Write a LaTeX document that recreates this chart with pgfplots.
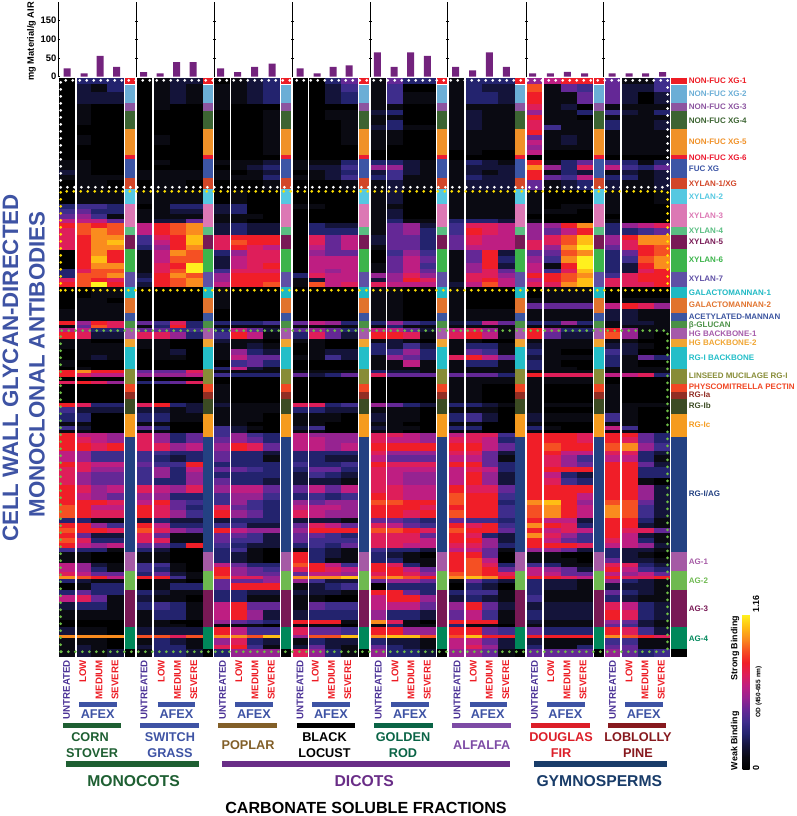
\documentclass[border=0pt]{standalone}
\usepackage{pgfplots}
\usepackage{pgfplotstable}
\usepackage{fontspec}
\setmainfont{Liberation Sans}
\pgfplotsset{compat=1.18}
\pgfplotsset{colormap={od}{rgb255=(0,0,0) rgb255=(10,10,18) rgb255=(20,20,58) rgb255=(35,35,110) rgb255=(62,45,140) rgb255=(100,40,150) rgb255=(150,35,145) rgb255=(190,30,130) rgb255=(222,30,90) rgb255=(240,30,40) rgb255=(245,80,35) rgb255=(250,140,30) rgb255=(255,190,20) rgb255=(255,240,30)}}
\newcommand\fs[1]{\fontsize{#1}{#1}\selectfont\bfseries}
\pgfdeclareplotmark{cell}{\pgfpathrectangle{\pgfpoint{-\cw pt*0.5}{-\rowh pt*0.5-0.1pt}}{\pgfpoint{\cw pt}{\rowh pt+0.2pt}}\pgfusepathqfill}
\definecolor{barp}{RGB}{115,35,125}
\definecolor{afex}{RGB}{62,83,164}
\definecolor{lowred}{RGB}{237,28,36}
\definecolor{untr}{RGB}{75,50,150}
\definecolor{dotyellow}{RGB}{255,225,0}
\definecolor{dotgreen}{RGB}{110,190,70}

% binding levels 0-13 (0 = 0 OD, 13 = 1.16 OD), rows are top pixel y and height h
\pgfplotstableread{
y h u1 l1 m1 s1 u2 l2 m2 s2 u3 l3 m3 s3 u4 l4 m4 s4 u5 l5 m5 s5 u6 l6 m6 s6 u7 l7 m7 s7 u8 l8 m8 s8
78 6 0 3 3 3 0 1 2 2 0 1 2 3 0 0 3 5 1 5 3 3 1 3 3 3 6 7 9 9 5 1 1 4
84 8 0 2 1 3 0 1 2 1 1 1 2 3 0 0 2 4 1 4 0 0 1 3 2 2 10 1 5 4 5 2 2 4
92 12 0 2 2 2 0 1 2 1 1 1 2 3 0 0 2 3 1 4 1 1 1 3 3 2 9 1 1 5 5 2 0 2
104 6 0 1 0 0 0 1 0 0 1 0 0 0 0 0 0 0 1 1 0 0 1 1 1 1 8 1 2 0 1 1 1 1
110 5 0 1 0 0 0 0 0 0 0 0 0 1 0 0 1 1 2 3 0 0 1 2 1 1 6 1 1 3 4 2 1 3
115 5 0 1 0 0 0 0 0 0 0 0 0 1 0 0 1 1 1 1 0 0 1 2 1 1 9 1 1 0 1 1 1 1
120 5 0 1 0 0 0 0 0 0 0 0 0 1 0 0 0 1 1 3 0 0 1 2 1 1 8 1 1 1 3 1 1 2
125 5 0 0 0 0 0 0 0 0 0 0 0 1 0 0 0 1 2 3 1 1 1 2 1 1 8 4 1 1 3 1 1 2
130 5 0 0 0 0 0 0 0 0 0 0 0 1 0 0 0 1 1 1 0 0 1 1 1 1 9 1 1 1 1 1 1 1
135 5 0 1 0 0 0 1 0 0 0 0 0 1 0 0 0 1 1 1 0 0 1 1 1 1 5 1 2 1 1 1 1 1
140 5 0 1 0 0 0 1 0 0 0 0 0 1 0 0 0 1 1 1 0 0 1 1 1 1 7 1 2 1 1 1 1 1
145 5 0 0 0 0 0 0 0 0 0 0 0 1 0 0 0 0 1 0 0 0 1 1 1 1 6 1 1 1 1 1 1 1
150 5 0 0 0 0 0 0 0 0 0 0 0 1 0 0 0 0 0 0 0 0 0 1 0 0 7 0 0 0 1 1 1 1
155 5 0 0 0 0 0 0 0 0 0 0 0 0 0 0 0 0 0 0 0 0 0 0 0 0 0 0 0 0 0 0 0 0
160 5 1 1 0 0 0 1 0 0 1 1 1 2 1 1 1 3 3 3 2 1 1 3 2 1 9 1 3 5 4 3 1 3
165 5 1 1 0 0 0 0 0 0 0 1 2 3 1 2 2 4 6 6 2 1 1 2 2 2 11 6 3 8 7 4 3 5
170 5 2 1 0 0 1 1 1 1 1 0 1 2 0 1 2 3 2 4 2 1 1 2 1 2 9 1 3 2 1 2 1 2
175 5 1 1 1 1 1 1 1 1 1 1 1 3 1 1 2 4 3 4 1 1 1 3 2 2 9 5 4 7 3 3 1 2
180 10 0 1 1 0 0 1 1 0 0 0 0 1 0 0 0 1 1 2 1 1 1 2 2 2 5 1 2 3 2 1 1 2
190 14 0 1 1 1 1 1 1 1 0 1 0 0 0 0 0 0 1 2 0 0 1 1 1 1 1 0 0 0 1 0 0 1
204 5 3 4 4 3 0 1 3 3 2 3 0 0 1 1 0 0 1 1 0 0 1 1 1 1 1 0 1 1 1 0 0 0
209 5 4 5 3 3 1 1 2 2 2 3 0 0 0 0 0 0 1 2 0 0 1 1 1 1 1 1 1 0 1 0 0 0
214 5 5 6 4 1 1 1 1 1 1 1 1 0 0 0 0 0 1 2 0 0 1 1 1 1 0 0 0 0 0 0 0 0
219 4 7 7 7 5 1 2 2 5 1 1 0 0 0 0 0 0 1 3 1 1 3 3 3 2 1 0 0 0 1 0 0 0
223 5 9 10 9 10 7 9 10 11 2 3 2 2 0 3 2 2 1 5 6 2 4 8 8 7 6 6 9 11 3 6 7 8
228 7 8 10 11 10 7 9 10 11 2 3 2 2 0 3 3 3 1 5 6 3 4 9 8 7 6 5 7 9 3 3 4 5
235 5 8 9 11 11 4 8 9 12 8 9 9 9 0 8 5 7 2 5 5 3 5 8 7 7 6 8 10 12 6 9 11 11
240 5 8 9 11 12 4 7 9 12 8 10 9 9 0 8 5 7 2 5 5 3 5 8 7 7 8 8 10 12 6 8 11 11
245 5 8 9 11 11 3 6 9 11 8 9 8 7 0 7 5 7 1 5 5 3 5 7 7 7 8 6 11 13 5 8 9 10
250 6 0 9 11 9 1 7 11 10 3 6 8 8 0 6 5 5 0 4 6 4 1 5 9 2 5 5 10 11 3 5 9 10
256 7 0 9 12 9 1 7 10 10 2 7 8 8 0 7 7 7 0 5 7 5 1 5 9 3 6 4 11 13 3 4 10 11
263 6 0 9 11 11 1 8 9 13 2 7 8 9 0 7 7 7 1 5 7 4 1 6 9 2 7 1 9 13 3 2 9 11
269 4 3 8 10 10 1 8 10 13 4 8 8 8 0 7 6 7 1 5 7 5 1 6 8 5 7 4 8 12 3 2 8 9
273 5 3 10 10 11 2 9 11 10 6 9 9 9 3 8 7 7 6 6 8 6 1 8 8 6 9 9 10 11 4 8 9 9
278 4 8 10 9 8 3 9 10 11 6 9 9 9 1 2 7 7 2 6 9 8 1 8 9 7 7 9 10 12 8 8 9 9
282 5 9 10 13 9 2 9 10 11 7 9 9 10 1 10 7 8 8 7 7 7 2 7 10 7 8 8 11 12 8 8 8 9
287 11 0 0 1 1 0 0 0 0 1 0 0 0 0 0 0 0 1 1 0 0 1 0 0 0 0 1 1 1 0 0 0 0
298 5 0 1 1 0 0 0 0 0 1 0 0 0 0 0 0 0 1 1 0 0 1 0 0 0 1 1 1 1 0 1 1 1
303 6 0 1 1 1 0 0 0 0 1 0 0 0 0 0 0 0 1 1 0 0 1 0 0 0 5 5 5 5 7 9 8 6
309 12 1 1 1 1 0 0 0 0 0 0 0 0 0 0 0 0 1 1 0 0 1 1 1 1 1 1 1 1 2 2 1 1
321 4 9 6 9 8 5 4 8 3 3 3 3 4 5 7 6 3 3 6 4 3 2 3 7 5 3 3 6 3 1 2 2 1
325 3.3 1 5 10 8 1 3 9 3 1 1 1 1 1 1 1 1 1 3 1 1 1 1 1 1 1 1 1 1 1 1 1 1
328.3 3.4 7 7 3 3 5 5 4 4 3 7 5 2 5 6 5 3 7 7 5 2 7 8 6 1 9 6 3 3 9 6 1 1
331.7 7.6 9 8 2 2 8 8 6 3 4 9 7 1 3 8 5 2 9 9 8 1 8 9 7 1 9 5 2 2 10 6 1 0
339.3 4 1 1 0 0 1 1 0 0 2 1 1 0 1 1 0 0 1 2 1 0 1 1 0 0 1 1 1 1 1 1 0 0
343.3 6 1 1 1 1 1 1 0 0 1 1 2 1 0 1 0 0 3 2 4 2 1 3 3 1 2 1 1 1 2 2 1 0
349.3 5.7 0 1 1 1 0 1 2 0 1 6 3 2 0 1 2 2 3 4 6 3 1 5 4 1 3 1 0 0 4 2 0 0
355 5 0 1 2 1 0 1 1 0 1 7 5 5 1 1 4 2 1 6 5 3 8 9 7 5 2 1 1 1 3 1 5 3
360 6.7 1 0 0 0 0 0 0 0 0 4 5 3 0 0 0 0 1 1 7 1 1 3 3 1 3 1 0 0 3 1 0 0
366.7 3.3 0 1 0 0 0 0 0 0 3 7 2 1 0 0 0 0 1 1 1 1 1 1 1 1 3 1 1 0 1 1 1 1
370 3.3 9 11 9 9 5 5 5 8 1 1 1 1 1 1 1 1 3 2 2 1 1 1 1 1 1 1 1 1 1 1 1 1
373.3 3.4 9 8 7 7 6 6 6 7 4 3 3 3 5 2 3 5 8 5 5 5 5 5 5 3 9 8 8 8 7 7 8 3
376.7 4 0 0 0 0 0 0 0 0 0 0 0 0 0 0 0 0 0 0 0 0 1 1 1 1 1 1 1 1 0 0 0 0
380.7 3.3 8 9 8 6 3 4 5 8 0 0 0 0 0 0 0 0 0 0 0 0 1 1 1 1 1 1 1 1 0 0 0 0
384 18.7 0 0 0 0 0 0 0 0 1 0 0 0 0 0 0 0 0 0 0 0 1 1 0 0 1 0 0 0 1 0 0 0
402.7 4.6 9 8 3 3 8 9 3 2 2 1 1 1 8 8 3 4 6 5 3 2 3 3 2 1 1 1 1 1 1 1 1 1
407.3 6 4 2 2 2 2 2 1 2 1 1 1 1 3 3 2 2 1 1 1 0 1 1 1 0 1 0 0 0 1 1 0 0
413.3 8.4 3 3 0 0 3 3 1 1 1 1 1 0 1 1 1 0 2 1 1 0 3 4 2 0 2 1 1 1 4 1 0 0
421.7 4.3 1 1 0 0 1 1 0 0 1 1 0 0 1 1 0 0 1 1 0 0 1 1 0 0 1 0 0 0 1 1 0 0
426 4 4 2 0 0 5 3 0 0 4 2 1 0 2 4 0 0 2 1 1 0 3 3 0 0 3 1 0 0 7 4 0 0
430 3.3 1 1 0 0 1 1 0 0 4 2 0 0 1 1 0 0 1 1 0 0 1 1 0 0 1 0 0 0 1 1 0 0
433.3 4 9 7 7 6 8 6 3 5 4 6 4 3 7 6 6 6 8 8 7 6 7 8 8 4 9 9 9 8 9 9 5 3
437.3 6 9 8 7 6 8 6 3 5 5 6 5 3 7 7 6 6 8 7 7 6 8 8 7 3 9 9 9 8 9 8 5 3
443.3 7.4 9 9 8 9 8 8 6 7 6 9 8 5 7 7 6 7 9 9 9 9 9 9 7 5 9 10 9 9 10 11 6 4
450.7 4.3 7 6 4 4 4 4 3 3 5 3 3 2 3 3 3 3 8 6 6 6 8 8 5 2 9 9 7 7 8 8 3 2
455 6.7 7 6 4 4 4 3 2 3 5 3 3 1 3 3 2 2 7 5 5 5 7 7 5 1 9 8 6 4 7 7 3 1
461.7 5 9 8 7 7 5 4 4 9 3 3 3 3 4 3 3 4 9 8 8 8 9 9 5 3 9 8 6 5 9 9 5 2
466.7 5 8 8 6 6 4 6 3 7 5 5 4 3 3 5 5 3 8 7 7 7 7 8 7 3 9 9 9 9 9 9 3 3
471.7 6.6 8 6 5 5 4 6 3 6 3 3 3 3 2 4 3 2 8 7 6 6 7 9 6 2 9 7 3 2 9 9 3 3
478.3 6.7 8 6 5 5 4 3 3 6 5 3 3 2 2 2 2 1 8 7 6 6 7 9 6 2 9 8 4 3 9 9 1 0
485 8.3 9 8 6 7 8 7 6 8 6 7 7 5 5 7 5 7 8 8 7 7 9 8 8 5 9 9 9 9 9 9 6 2
493.3 6.7 9 7 6 5 6 6 3 3 4 6 6 4 3 4 3 4 9 8 7 7 10 9 9 4 9 9 9 7 9 9 6 2
500 5 9 9 9 8 7 9 5 4 4 6 4 3 6 5 6 6 10 10 9 9 10 9 9 3 11 12 9 6 10 10 5 2
505 5 10 9 7 7 9 8 5 3 8 5 4 3 7 7 7 6 9 9 9 8 9 9 9 4 10 11 9 7 11 10 4 2
510 8.3 10 9 8 8 9 8 6 4 9 6 5 3 8 7 6 6 9 9 8 9 10 9 9 4 10 11 9 7 11 10 4 2
518.3 4.4 3 3 1 1 2 3 2 2 2 3 3 3 2 2 2 1 5 5 4 3 5 4 4 3 9 7 7 2 9 9 3 1
522.7 5.6 9 9 6 4 9 7 3 3 4 4 2 2 5 8 7 5 8 7 5 4 9 8 9 4 11 9 8 3 9 9 2 1
528.3 5 10 9 9 8 10 8 6 5 9 7 6 6 6 9 9 9 10 10 9 8 10 9 9 5 9 7 8 7 9 8 8 5
533.3 5 9 5 2 2 8 5 1 1 5 5 4 2 5 5 4 3 8 8 8 5 9 8 3 2 11 8 6 4 9 7 2 1
538.3 5 10 8 3 3 8 8 1 1 5 4 4 2 5 4 4 4 8 8 8 7 9 9 6 2 9 7 5 4 8 7 3 1
543.3 5 9 7 6 7 5 5 3 9 4 3 2 2 3 4 3 5 8 8 7 7 8 8 6 3 9 9 9 8 7 7 6 2
548.3 4 4 3 3 1 3 2 0 0 3 4 1 0 1 3 2 1 4 3 3 2 7 7 5 1 6 6 5 2 3 2 2 1
552.3 6 1 1 0 0 1 1 0 0 3 2 1 0 9 3 2 1 3 2 1 0 9 9 5 0 1 1 0 0 3 2 1 0
558.3 5 1 1 0 0 1 1 0 0 3 2 1 0 9 3 1 1 3 3 1 1 9 10 7 0 1 1 1 0 5 2 2 1
563.3 4 7 6 2 1 4 4 1 0 7 5 3 3 10 9 7 4 9 8 3 1 9 10 8 3 4 3 1 1 8 8 3 2
567.3 4.4 7 6 3 1 4 3 1 0 9 6 5 4 8 9 8 7 9 9 7 5 9 10 9 5 7 6 5 2 9 7 4 3
571.7 4.3 8 7 5 5 3 5 2 1 9 6 5 5 5 7 7 6 8 9 8 6 10 10 9 8 7 7 5 5 7 6 7 5
576 3.3 11 10 9 7 9 9 4 1 10 8 8 6 11 11 11 12 10 11 10 9 11 12 11 9 9 9 8 7 9 8 8 9
579.3 4 3 2 1 1 0 1 1 0 5 5 5 6 6 4 2 2 5 6 6 5 1 5 3 2 3 2 2 1 6 3 2 1
583.3 6.7 0 1 3 3 0 1 3 3 5 9 9 9 1 2 3 4 0 3 3 3 0 3 2 0 3 2 2 1 2 2 2 1
590 5 3 5 3 3 3 2 1 1 3 3 2 2 2 2 2 1 9 9 5 3 3 4 4 1 3 1 1 1 5 3 2 1
595 6.7 7 8 5 1 2 1 1 0 3 3 1 1 1 1 0 0 7 9 9 6 2 3 2 1 4 1 1 1 3 2 1 1
601.7 8.3 2 3 3 1 3 4 3 1 7 9 5 5 1 5 4 4 7 7 7 5 6 9 5 2 2 2 2 2 8 7 3 2
610 10 1 1 1 1 1 3 3 1 7 9 6 2 2 3 3 3 6 3 3 2 5 7 4 1 3 2 2 2 9 8 3 2
620 4 0 0 0 0 1 1 0 0 6 5 4 3 9 9 9 1 11 8 1 0 9 9 9 1 2 1 1 1 6 5 2 1
624 3.3 0 0 0 0 1 1 1 0 1 1 1 0 1 1 1 0 1 3 1 1 3 1 1 0 1 1 1 1 5 4 2 1
627.3 7.7 2 1 1 0 2 2 2 2 9 7 4 4 8 5 5 4 9 9 6 6 9 9 5 4 5 3 3 3 9 8 4 2
635 3.3 11 11 11 11 10 10 8 10 11 11 10 12 6 10 10 12 11 12 12 10 10 12 9 9 9 9 9 9 11 10 9 8
638.3 6.7 1 1 1 0 1 3 2 1 6 8 3 2 1 3 2 2 3 2 2 1 7 7 5 2 2 1 1 1 4 4 1 1
645 4.3 1 2 1 0 2 3 3 1 8 9 4 1 2 5 2 1 5 3 2 1 7 8 6 2 3 1 1 3 5 5 1 1
649.3 8 1 2 1 2 1 3 3 2 3 6 6 6 8 6 3 1 6 3 3 2 6 6 5 1 5 5 5 5 6 5 3 4
}\heatdata

% one column of cells: column name, centre x, width
\newcommand\heatcol[3]{\addplot[scatter, only marks, mark=cell, point meta=explicit,
  scatter/use mapped color={draw=mapped color, fill=mapped color},
  visualization depends on={value #3\as\cw},
  visualization depends on={\thisrow{h}\as\rowh}]
  table[x expr=#2, y expr=\thisrow{y}+0.5*\thisrow{h}, meta=#1] {\heatdata};}
% one annotation class: top, bottom, colour, label y, label
\newcommand\cls[5]{\pgfplotsinvokeforeach{130,208.2,286,364,442.2,520.2,598.8}{\addplot[line width=10pt, color=#3] coordinates {(##1,#1)(##1,#2)};}
  \addplot[line width=16.3pt, color=#3] coordinates {(679,#1)(679,#2)};
  \node[anchor=west, inner sep=0pt, text=#3] at (688.7,#4) {\fs{8}#5};}
\newcommand\rotlab[2]{\node[rotate=90, anchor=east, inner sep=0pt, text=lowred] at (#1,660) {\fs{9.7}#2};}
\newcommand\group[7]{% untreated x, low x, medium x, severe x, afex left, afex right, afex text
  \node[rotate=90, anchor=east, inner sep=0pt, text=untr] at (#1,660) {\fs{9.7}UNTREATED};
  \rotlab{#2}{LOW}\rotlab{#3}{MEDIUM}\rotlab{#4}{SEVERE}
  \addplot[line width=5pt, color=afex] coordinates {(#5,704.3)(#6,704.3)};
  \node[text=afex, inner sep=0pt] at (#7,714) {\fs{12.7}AFEX};}
\newcommand\species[3]{\addplot[line width=5.5pt, color=#3] coordinates {(#1,725.3)(#2,725.3)};}

\begin{document}
\begin{tikzpicture}
\path[use as bounding box] (0,0) rectangle (796pt,816pt);
% yield bars
\begin{axis}[at={(58.5pt,739.3pt)}, anchor=south west, scale only axis, width=737.5pt, height=74.6pt,
  xmin=58.5, xmax=796, ymin=0, ymax=200, axis x line=none, axis y line=left,
  axis line style={line width=1pt, -}, clip=false,
  ytick={0,50,100,150}, tick style={black, line width=0.8pt}, major tick length=2pt,
  yticklabel style={font=\fs{9.4}, /pgf/number format/assume math mode=true, inner sep=1pt},
  ylabel={\fs{9.3}mg Material/g AIR}, ylabel style={at={(axis cs:31.5,95)}, anchor=center, inner sep=0pt}]
\addplot[ybar, bar shift=0pt, bar width=7pt, fill=barp, draw=none] coordinates {
(67,22)(84,9)(100,56)(116.7,26)
(143.7,12)(160,9)(176.7,39)(193,39)
(220.7,22)(237.7,12)(254.7,26)(272,35)
(300,22)(317,9)(333,26)(349,30)
(377.3,65)(394,26)(410.7,65)(427.3,56)
(455.7,26)(472.7,17)(489.3,65)(506.3,26)
(532.7,9)(550.3,9)(567.3,13)(584.7,9)
(612,9)(629,9)(645.7,9)(662.7,12)};
\pgfplotsinvokeforeach{136,214,292.5,370,447.7,526,603.5}{
  \addplot[black, line width=1pt] coordinates {(#1,0)(#1,200)};
  \addplot[only marks, mark=-, mark size=1.5pt, black] coordinates {(#1,50)(#1,100)(#1,150)};
}
\end{axis}
% heat map and everything else, in picture pixels
\begin{axis}[at={(0,0)}, anchor=south west, scale only axis, width=796pt, height=816pt,
  xmin=0, xmax=796, ymin=0, ymax=816, y dir=reverse, hide axis, clip=false,
  colormap name=od, point meta min=0, point meta max=13]
\heatcol{u1}{66.5}{16}\heatcol{l1}{83.85}{14.3}\heatcol{m1}{99}{16}\heatcol{s1}{115.35}{16.7}
\heatcol{u2}{144.5}{15}\heatcol{l2}{161.85}{16.3}\heatcol{m2}{178}{16}\heatcol{s2}{194.35}{16.7}
\heatcol{u3}{221.75}{15.5}\heatcol{l3}{239}{16}\heatcol{m3}{255}{16}\heatcol{s3}{271.25}{16.5}
\heatcol{u4}{300.1}{15.2}\heatcol{l4}{317}{16}\heatcol{m4}{333}{16}\heatcol{s4}{349.35}{16.7}
\heatcol{u5}{378.35}{14.7}\heatcol{l5}{395}{16}\heatcol{m5}{411.25}{16.5}\heatcol{s5}{427.9}{16.8}
\heatcol{u6}{456.5}{15}\heatcol{l6}{473.85}{16.3}\heatcol{m6}{490}{16}\heatcol{s6}{506.35}{16.7}
\heatcol{u7}{534.5}{15}\heatcol{l7}{552.2}{17}\heatcol{m7}{568.85}{16.3}\heatcol{s7}{585}{16}
\heatcol{u8}{612.1}{15.2}\heatcol{l8}{629.6}{15.8}\heatcol{m8}{645.6}{16.2}\heatcol{s8}{661.85}{16.3}

\definecolor{c1}{RGB}{237,28,36}\cls{77.7}{84}{c1}{81}{NON-FUC XG-1}
\definecolor{c2}{RGB}{107,174,214}\cls{85}{103.3}{c2}{93.7}{NON-FUC XG-2}
\definecolor{c3}{RGB}{140,85,160}\cls{103.3}{111}{c3}{107}{NON-FUC XG-3}
\definecolor{c4}{RGB}{60,100,50}\cls{111}{129.3}{c4}{120.3}{NON-FUC XG-4}
\definecolor{c5}{RGB}{240,145,40}\cls{129.3}{155}{c5}{141.7}{NON-FUC XG-5}
\definecolor{c6}{RGB}{237,28,50}\cls{155}{159.3}{c6}{157.3}{NON-FUC XG-6}
\definecolor{c7}{RGB}{60,85,165}\cls{159.3}{178.3}{c7}{168.3}{FUC XG}
\definecolor{c8}{RGB}{210,70,40}\cls{178.3}{189.3}{c8}{183.3}{XYLAN-1/XG}
\definecolor{c9}{RGB}{85,200,225}\cls{189.3}{204.3}{c9}{196.7}{XYLAN-2}
\definecolor{c10}{RGB}{220,120,180}\cls{204.3}{227.3}{c10}{215.3}{XYLAN-3}
\definecolor{c11}{RGB}{90,190,130}\cls{227.3}{235}{c11}{230.7}{XYLAN-4}
\definecolor{c12}{RGB}{120,25,85}\cls{235}{249.3}{c12}{241.7}{XYLAN-5}
\definecolor{c13}{RGB}{60,180,75}\cls{249.3}{271.7}{c13}{260}{XYLAN-6}
\definecolor{c14}{RGB}{95,80,165}\cls{271.7}{286.7}{c14}{278.3}{XYLAN-7}
\definecolor{c15}{RGB}{30,185,195}\cls{286.7}{298.3}{c15}{292.3}{GALACTOMANNAN-1}
\definecolor{c16}{RGB}{225,115,45}\cls{298.3}{313.3}{c16}{305}{GALACTOMANNAN-2}
\definecolor{c17}{RGB}{60,85,160}\cls{313.3}{321}{c17}{316.7}{ACETYLATED-MANNAN}
\definecolor{c18}{RGB}{75,145,70}\cls{321}{328.3}{c18}{325}{β-GLUCAN}
\definecolor{c19}{RGB}{165,90,170}\cls{328.3}{338.7}{c19}{334}{HG BACKBONE-1}
\definecolor{c20}{RGB}{240,165,50}\cls{339}{346.7}{c20}{342.3}{HG BACKBONE-2}
\definecolor{c21}{RGB}{35,190,200}\cls{346.7}{369.3}{c21}{357.7}{RG-I BACKBONE}
\definecolor{c22}{RGB}{135,140,55}\cls{369.3}{384}{c22}{375.7}{LINSEED MUCILAGE RG-I}
\definecolor{c23}{RGB}{240,70,35}\cls{384}{392}{c23}{386.7}{PHYSCOMITRELLA PECTIN}
\definecolor{c24}{RGB}{145,45,35}\cls{392}{399.3}{c24}{395}{RG-Ia}
\definecolor{c25}{RGB}{60,75,35}\cls{399.3}{414.3}{c25}{406}{RG-Ib}
\definecolor{c26}{RGB}{245,155,30}\cls{414.3}{436.7}{c26}{425}{RG-Ic}
\definecolor{c27}{RGB}{35,65,130}\cls{436.7}{551.7}{c27}{493.7}{RG-I/AG}
\definecolor{c28}{RGB}{165,90,165}\cls{551.7}{571}{c28}{561.3}{AG-1}
\definecolor{c29}{RGB}{110,185,80}\cls{571}{589.7}{c29}{580.3}{AG-2}
\definecolor{c30}{RGB}{120,25,85}\cls{589.7}{627.3}{c30}{608.3}{AG-3}
\definecolor{c31}{RGB}{0,135,90}\cls{627.3}{649.3}{c31}{638.7}{AG-4}
\cls{649.3}{656.7}{black}{652}{}

\group{66.7}{82.7}{99}{115}{79}{116.7}{97.7}
\group{144}{161.3}{177.7}{193.7}{157.7}{195.3}{176.5}
\group{222.7}{238.7}{255}{271.3}{235.3}{273}{254}
\group{300}{315.3}{331.7}{347.7}{312}{349.7}{331}
\group{378.3}{395}{411}{427.3}{391}{428.7}{410}
\group{457}{473.3}{489.3}{505.7}{469.7}{507}{487.7}
\group{534.7}{550.7}{567}{583}{547}{584.7}{565.3}
\group{612.7}{629}{645}{661.3}{625.3}{663}{643.7}

\definecolor{sp1}{RGB}{30,95,50}\definecolor{sp3}{RGB}{130,95,40}\definecolor{sp5}{RGB}{10,100,70}\definecolor{sp6}{RGB}{125,75,165}\definecolor{sp7}{RGB}{220,30,40}\definecolor{sp8}{RGB}{135,25,30}
\definecolor{gy}{RGB}{25,60,105}\definecolor{di}{RGB}{105,45,135}
\species{63.3}{120.7}{sp1}\species{140}{198.7}{afex}\species{218.3}{277}{sp3}\species{297}{355.3}{black}
\species{374.3}{432.7}{sp5}\species{452}{510.7}{sp6}\species{531}{589.7}{sp7}\species{608}{666.3}{sp8}
\addplot[line width=6.5pt, color=sp1] coordinates {(65.7,764)(198.7,764)};
\addplot[line width=6.5pt, color=di] coordinates {(222.3,764)(510,764)};
\addplot[line width=6.5pt, color=gy] coordinates {(534,764)(666.7,764)};

\tikzset{every node/.append style={inner sep=0pt}}
\node[text=sp1] at (90,737.3) {\fs{12.7}CORN};
\node[text=sp1] at (92,752.7) {\fs{12.7}STOVER};
\node[text=afex] at (170,737.3) {\fs{12.7}SWITCH};
\node[text=afex] at (170,752.7) {\fs{12.7}GRASS};
\node[text=sp3] at (248,745) {\fs{12.7}POPLAR};
\node at (324.5,737.3) {\fs{12.7}BLACK};
\node at (324.5,752.7) {\fs{12.7}LOCUST};
\node[text=sp5] at (403,737.3) {\fs{12.7}GOLDEN};
\node[text=sp5] at (403,752.7) {\fs{12.7}ROD};
\node[text=sp6] at (481.7,745) {\fs{12.7}ALFALFA};
\node[text=sp7] at (561,737.3) {\fs{12.7}DOUGLAS};
\node[text=sp7] at (561,752.7) {\fs{12.7}FIR};
\node[text=sp8] at (638,737.3) {\fs{12.7}LOBLOLLY};
\node[text=sp8] at (638,752.7) {\fs{12.7}PINE};
\node[text=sp1] at (133.5,780.7) {\fs{15.7}MONOCOTS};
\node[text=di] at (364.3,780.7) {\fs{15.7}DICOTS};
\node[text=gy] at (599.3,780.7) {\fs{15.7}GYMNOSPERMS};
\node at (366,808) {\fs{16.1}CARBONATE SOLUBLE FRACTIONS};
\node[rotate=90, text=afex] at (10.5,368) {\fs{22.3}CELL WALL GLYCAN-DIRECTED};
\node[rotate=90, text=afex] at (37,364.5) {\fs{22.3}MONOCLONAL ANTIBODIES};
\node[rotate=90] at (735,648) {\fs{8.9}Strong Binding};
\node[rotate=90] at (735,740.7) {\fs{8.9}Weak Binding};
\node[rotate=90] at (758.7,691.7) {\fs{6.5}OD (450-655 nm)};
\node[rotate=90, anchor=west] at (756,613) {\fs{8.9}1.16};
\node[rotate=90] at (756,768) {\fs{8.9}0};
\end{axis}
% dotted class boxes go in their own axis: cell marks are painted last within an axis
\begin{axis}[at={(0,0)}, anchor=south west, scale only axis, width=796pt, height=816pt,
  xmin=0, xmax=796, ymin=0, ymax=816, y dir=reverse, hide axis, clip=false]
\addplot[white, line width=3pt, line cap=round, dash pattern=on 0pt off 7pt] coordinates {(60.7,187.3)(60.7,80.3)(667.5,80.3)(667.5,187.3)(60.7,187.3)};
\addplot[dotyellow, line width=3pt, line cap=round, dash pattern=on 0pt off 7pt] coordinates {(60.7,290.3)(60.7,191.3)(667.5,191.3)(667.5,290.3)(60.7,290.3)};
\addplot[dotgreen, line width=3pt, line cap=round, dash pattern=on 0pt off 7pt] coordinates {(60.7,651.7)(60.7,330.7)(667.5,330.7)(667.5,651.7)(60.7,651.7)};
\end{axis}
\pgfplotscolorbardrawstandalone[colormap name=od, point meta min=0, point meta max=13,
  colorbar style={at={(734.2pt,46.7pt)}, anchor=south west, width=7pt, height=154.3pt, scale only axis,
  ytick=\empty, axis line style={draw=none}}]
\end{tikzpicture}
\end{document}
